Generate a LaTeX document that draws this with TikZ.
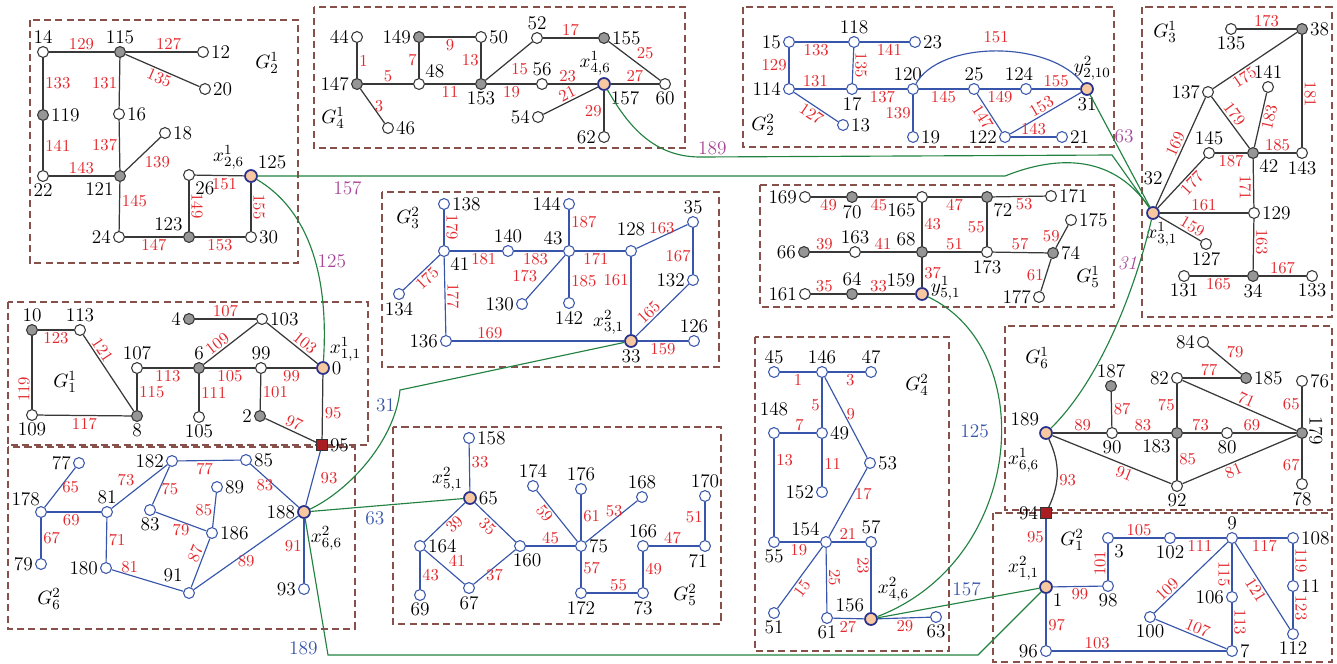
\documentclass[tikz,border=0pt]{standalone}
\usepackage{amsmath}
\usetikzlibrary{positioning}
\definecolor{wtred}{RGB}{228,40,45}
\definecolor{treeblue}{RGB}{55,85,170}
\definecolor{linkgreen}{RGB}{35,130,65}
\definecolor{linkpurple}{RGB}{168,70,150}
\definecolor{boxbrown}{RGB}{135,80,75}
\definecolor{peach}{RGB}{248,200,160}
\definecolor{rimblue}{RGB}{40,50,140}
\definecolor{cutred}{RGB}{170,30,35}
\definecolor{dotgray}{RGB}{150,150,150}

\begin{document}
\begin{tikzpicture}[
  x=0.02cm, y=-0.02cm,
  font=\fontsize{11}{13}\selectfont,
  every label/.style={inner sep=1pt},
  wdot/.style={circle, draw=black!80, fill=white, line width=0.6pt, minimum size=6.2pt, inner sep=0pt},
  gdot/.style={wdot, fill=dotgray},
  bdot/.style={wdot, draw=treeblue},
  port/.style={circle, draw=rimblue, fill=peach, line width=1pt, minimum size=6.8pt, inner sep=0pt},
  cutsq/.style={rectangle, draw=black!80, fill=cutred, line width=0.5pt, minimum size=6.2pt, inner sep=0pt},
  kedge/.style={draw=black!78, line width=0.7pt},
  bedge/.style={draw=treeblue, line width=0.65pt},
  glink/.style={draw=linkgreen, line width=0.65pt},
  wt/.style={text=wtred, font=\fontsize{9.5}{11}\selectfont, inner sep=1pt},
  pwt/.style={text=linkpurple, inner sep=1pt},
  bwt/.style={text=treeblue, inner sep=1pt},
  rotr/.style={rotate=-90, anchor=south},
  rotl/.style={rotate=-90, anchor=north},
  rotu/.style={rotate=90, anchor=south},
  grp/.style={draw=boxbrown, line width=0.75pt, dash pattern=on 4pt off 2.4pt},
]
\useasboundingbox (0,0) rectangle (1337,663);
\fill[white] (0,0) rectangle (1337,663);

% group boxes
\draw[grp] (30,20) rectangle (298,263);
\draw[grp] (314,7) rectangle (685,148);
\draw[grp] (743,7) rectangle (1114,147);
\draw[grp] (1142,7) rectangle (1332,317);
\draw[grp] (8,302) rectangle (368,445);
\draw[grp] (382,192) rectangle (719,367);
\draw[grp] (760,185) rectangle (1114,307);
\draw[grp] (1005,326) rectangle (1332,510);
\draw[grp] (8,447) rectangle (355,629);
\draw[grp] (393,427) rectangle (721,624);
\draw[grp] (755,337) rectangle (949,651);
\draw[grp] (993,513) rectangle (1332,662);

% G_2^1
\node[wdot, label=above:14] (B14) at (43,52) {};
\node[gdot, label=above:115] (B115) at (120,52) {};
\node[wdot, label=right:12] (B12) at (203,52) {};
\node[wdot, label=right:20] (B20) at (205,89) {};
\node[gdot, label=right:119] (B119) at (43,115) {};
\node[wdot, label=right:16] (B16) at (119,114) {};
\node[wdot, label=right:18] (B18) at (165,133) {};
\node[wdot, label=below:22] (B22) at (43,176) {};
\node[gdot, label=below left:121] (B121) at (120,176) {};
\node[wdot, label=below right:26] (B26) at (189,175) {};
\node[port, label=above right:125, label={above left:$x^1_{2,6}$}] (B125) at (251,176) {};
\node[wdot, label=left:24] (B24) at (119,237) {};
\node[gdot, label=above left:123] (B123) at (189,237) {};
\node[wdot, label=right:30] (B30) at (251,237) {};
\node (G21) at (267,63) {$G_2^1$};

% G_4^1
\node[wdot, label=left:44] (D44) at (357,37) {};
\node[gdot, label=left:147] (D147) at (357,84) {};
\node[wdot, label=right:46] (D46) at (388,128) {};
\node[gdot, label=left:149] (D149) at (419,37) {};
\node[wdot, label=above right:48] (D48) at (419,84) {};
\node[wdot, label=right:50] (D50) at (481,37) {};
\node[gdot, label=below:153] (D153) at (481,84) {};
\node[wdot, label=above:52] (D52) at (537,38) {};
\node[wdot, label=above:56] (D56) at (542,84) {};
\node[gdot, label=right:155] (D155) at (604,38) {};
\node[port, label=below right:157, label={[xshift=-5pt]above:$x^1_{4,6}$}] (D157) at (604,84) {};
\node[wdot, label=below:60] (D60) at (665,84) {};
\node[wdot, label=left:54] (D54) at (538,117) {};
\node[wdot, label=left:62] (D62) at (604,137) {};
\node (G41) at (333,118) {$G_4^1$};

% G_2^2
\node[bdot, label=left:15] (b15) at (789,42) {};
\node[bdot, label=above:118] (b118) at (854,42) {};
\node[bdot, label=right:23] (b23) at (915,42) {};
\node[bdot, label=left:114] (b114) at (789,89) {};
\node[bdot, label=below:17] (b17) at (852,89) {};
\node[bdot, label=right:13] (b13) at (843,125) {};
\node[bdot, label={[xshift=-3pt]above:120}] (b120) at (913,89) {};
\node[bdot, label=right:19] (b19) at (913,137) {};
\node[bdot, label=above:25] (b25) at (974,89) {};
\node[bdot, label={[xshift=-4pt]above:124}] (b124) at (1026,89) {};
\node[port, label=below:31, label={[xshift=3pt]above:$y^2_{2,10}$}] (b31) at (1087,89) {};
\node[bdot, label=left:122] (b122) at (1005,137) {};
\node[bdot, label=right:21] (b21) at (1062,137) {};
\node (G22) at (763,125) {$G_2^2$};

% G_3^1
\node[wdot, label=below:135] (C135) at (1231,29) {};
\node[gdot, label=right:38] (C38) at (1302,29) {};
\node[wdot, label=left:137] (C137) at (1208,92) {};
\node[wdot, label=above:141] (C141) at (1268,87) {};
\node[wdot, label=above:145] (C145) at (1209,153) {};
\node[gdot, label=below right:42] (C42) at (1253,153) {};
\node[wdot, label=below:143] (C143) at (1302,153) {};
\node[port, label={[yshift=11pt]above:32}, label={[xshift=5pt]below:$x^1_{3,1}$}] (C32) at (1153,213) {};
\node[wdot, label=right:129] (C129) at (1254,213) {};
\node[wdot, label=below:127] (C127) at (1206,244) {};
\node[wdot, label=below:131] (C131) at (1184,276) {};
\node[gdot, label=below:34] (C34) at (1253,276) {};
\node[wdot, label=below:133] (C133) at (1312,276) {};
\node (G31) at (1165,32) {$G_3^1$};

% G_1^1
\node[gdot, label=above:10] (A10) at (32,330) {};
\node[wdot, label=above:113] (A113) at (80,330) {};
\node[wdot, label=below:109] (A109) at (32,415) {};
\node[gdot, label=below:8] (A8) at (137,416) {};
\node[wdot, label=above:107] (A107) at (137,368) {};
\node[gdot, label=above:6] (A6) at (199,368) {};
\node[gdot, label=left:4] (A4) at (189,319) {};
\node[wdot, label=right:103] (A103) at (262,319) {};
\node[wdot, label=above:99] (A99) at (261,368) {};
\node[port, label=right:0, label={above right:$x^1_{1,1}$}] (A0) at (323,368) {};
\node[wdot, label=below:105] (A105) at (199,417) {};
\node[gdot, label=left:2] (A2) at (260,416) {};
\node[cutsq, label=right:95] (Q95) at (322,445) {};
\node (G11) at (65,382) {$G_1^1$};

% G_3^2
\node[bdot, label=right:138] (c138) at (444,204) {};
\node[bdot, label=below right:41] (c41) at (444,251) {};
\node[bdot, label=above:140] (c140) at (508,251) {};
\node[bdot, label=above left:43] (c43) at (569,251) {};
\node[bdot, label=left:144] (c144) at (569,204) {};
\node[bdot, label={[yshift=4pt]above:128}] (c128) at (631,251) {};
\node[bdot, label=above:35] (c35) at (693,222) {};
\node[bdot, label=left:132] (c132) at (693,280) {};
\node[bdot, label=below:134] (c134) at (399,294) {};
\node[bdot, label=left:130] (c130) at (522,304) {};
\node[bdot, label=below:142] (c142) at (569,303) {};
\node[bdot, label=left:136] (c136) at (446,341) {};
\node[port, label=below:33, label={above left:$x^2_{3,1}$}] (c33) at (631,341) {};
\node[bdot, label=above:126] (c126) at (694,341) {};
\node (G32) at (408,218) {$G_3^2$};

% G_5^1
\node[wdot, label=left:169] (E169) at (805,197) {};
\node[gdot, label=below:70] (E70) at (852,197) {};
\node[wdot, label=below left:165] (E165) at (922,197) {};
\node[gdot, label=below right:72] (E72) at (987,197) {};
\node[wdot, label=right:171] (E171) at (1051,196) {};
\node[gdot, label=left:66] (E66) at (804,252) {};
\node[wdot, label=above:163] (E163) at (855,252) {};
\node[gdot, label=above left:68] (E68) at (922,252) {};
\node[wdot, label=below:173] (E173) at (987,252) {};
\node[gdot, label=right:74] (E74) at (1053,253) {};
\node[wdot, label=right:175] (E175) at (1071,220) {};
\node[wdot, label=left:177] (E177) at (1039,297) {};
\node[wdot, label=left:161] (E161) at (805,294) {};
\node[gdot, label=above:64] (E64) at (852,294) {};
\node[port, label=above left:159, label={[yshift=3pt]right:$y^1_{5,1}$}] (E159) at (922,294) {};
\node (G51) at (1088,277) {$G_5^1$};

% G_6^1
\node[wdot, label=left:84] (F84) at (1203,342) {};
\node[gdot, label=right:185] (F185) at (1246,378) {};
\node[wdot, label=left:82] (F82) at (1177,378) {};
\node[gdot, label=above:187] (F187) at (1111,386) {};
\node[wdot, label=right:76] (F76) at (1302,381) {};
\node[port, label=above left:189, label={[yshift=-5pt]below left:$x^1_{6,6}$}] (F189) at (1046,433) {};
\node[wdot, label=below:90] (F90) at (1112,433) {};
\node[gdot, label=below left:183] (F183) at (1177,433) {};
\node[wdot, label=below:80] (F80) at (1227,433) {};
\node[gdot] (F179) at (1302,433) {};
\node[rotate=-90] (F179txt) at (1316,431) {179};
\node[wdot, label=below:92] (F92) at (1177,486) {};
\node[wdot, label=below:78] (F78) at (1302,484) {};
\node[cutsq, label=left:94] (Q94) at (1046,513) {};
\node (G61) at (1037,358) {$G_6^1$};

% G_6^2
\node[bdot, label=left:77] (f77) at (79,463) {};
\node[bdot, label={[xshift=3pt]above left:178}] (f178) at (41,512) {};
\node[bdot, label=above:81] (f81) at (107,512) {};
\node[bdot, label=left:79] (f79) at (41,564) {};
\node[bdot, label=left:180] (f180) at (106,568) {};
\node[bdot, label=left:182] (f182) at (172,461) {};
\node[bdot, label=right:85] (f85) at (246,460) {};
\node[bdot, label=below:83] (f83) at (150,510) {};
\node[bdot, label=right:89] (f89) at (217,487) {};
\node[bdot, label=right:186] (f186) at (212,533) {};
\node[bdot, label={[yshift=3pt]above left:91}] (f91) at (189,593) {};
\node[port, label=left:188, label={[yshift=-4pt]below right:$x^2_{6,6}$}] (f188) at (304,512) {};
\node[bdot, label=left:93] (f93) at (304,589) {};
\node (G62) at (49,599) {$G_6^2$};

% G_5^2
\node[bdot, label=right:158] (e158) at (469,438) {};
\node[port, label=right:65, label={above left:$x^2_{5,1}$}] (e65) at (470,498) {};
\node[bdot, label=right:164] (e164) at (420,546) {};
\node[bdot, label={[xshift=4pt]below:160}] (e160) at (520,546) {};
\node[bdot, label=below:67] (e67) at (469,588) {};
\node[bdot, label=below:69] (e69) at (420,595) {};
\node[bdot, label=above:174] (e174) at (533,486) {};
\node[bdot, label=above:176] (e176) at (581,489) {};
\node[bdot, label=above:168] (e168) at (642,497) {};
\node[bdot, label=right:75] (e75) at (581,546) {};
\node[bdot, label=above:166] (e166) at (643,546) {};
\node[bdot, label={[xshift=-4pt]below:71}] (e71) at (705,546) {};
\node[bdot, label=above:170] (e170) at (705,496) {};
\node[bdot, label=below:172] (e172) at (581,593) {};
\node[bdot, label=below:73] (e73) at (643,593) {};
\node (G52) at (685,595) {$G_5^2$};

% G_4^2
\node[bdot, label=above:45] (d45) at (774,372) {};
\node[bdot, label=above:146] (d146) at (822,372) {};
\node[bdot, label=above:47] (d47) at (871,372) {};
\node[bdot, label={[yshift=5pt]above:148}] (d148) at (774,433) {};
\node[bdot, label=right:49] (d49) at (822,433) {};
\node[bdot, label=right:53] (d53) at (870,463) {};
\node[bdot, label=left:152] (d152) at (822,492) {};
\node[bdot, label=below:55] (d55) at (774,542) {};
\node[bdot, label=above left:154] (d154) at (826,542) {};
\node[bdot, label=above:57] (d57) at (871,542) {};
\node[bdot, label=below:51] (d51) at (774,613) {};
\node[bdot, label=below:61] (d61) at (827,618) {};
\node[port, label=above left:156, label={[yshift=6pt]above right:$x^2_{4,6}$}] (d156) at (871,619) {};
\node[bdot, label=below:63] (d63) at (936,617) {};
\node (G42) at (917,385) {$G_4^2$};

% G_1^2
\node[port, label=below right:1, label={above left:$x^2_{1,1}$}] (a1) at (1046,587) {};
\node[bdot, label=below right:3] (a3) at (1108,538) {};
\node[bdot, label=below:102] (a102) at (1170,538) {};
\node[bdot, label=above:9] (a9) at (1232,538) {};
\node[bdot, label=right:108] (a108) at (1293,538) {};
\node[bdot, label=below:98] (a98) at (1108,586) {};
\node[bdot, label=right:11] (a11) at (1293,586) {};
\node[bdot, label=left:106] (a106) at (1232,597) {};
\node[bdot, label=below:100] (a100) at (1150,617) {};
\node[bdot, label=below:112] (a112) at (1293,634) {};
\node[bdot, label=left:96] (a96) at (1046,651) {};
\node[bdot, label=right:7] (a7) at (1232,651) {};
\node (G12) at (1072,540) {$G_1^2$};

% bend points of the links
\coordinate (k1) at (1005,176);
\coordinate (k2) at (700,157);
\coordinate (k3) at (1112,155);
\coordinate (k4) at (400,390);
\coordinate (k5) at (328,655);
\coordinate (k6) at (978,655);

% G_2^1 edges
\draw[kedge] (B14) -- node[wt, above]{129} (B115);
\draw[kedge] (B115) -- node[wt, above, pos=0.6]{127} (B12);
\draw[kedge] (B115) -- node[wt, below, sloped]{135} (B20);
\draw[kedge] (B14) -- node[wt, right]{133} (B119);
\draw[kedge] (B119) -- node[wt, right]{141} (B22);
\draw[kedge] (B115) -- node[wt, left]{131} (B16);
\draw[kedge] (B16) -- node[wt, left]{137} (B121);
\draw[kedge] (B22) -- node[wt, above]{143} (B121);
\draw[kedge] (B121) -- node[wt, below right]{139} (B18);
\draw[kedge] (B121) -- node[wt, right, pos=0.38]{145} (B24);
\draw[kedge] (B26) -- node[wt, rotr]{149} (B123);
\draw[kedge] (B26) -- node[wt, below, pos=0.6]{151} (B125);
\draw[kedge] (B125) -- node[wt, rotr]{155} (B30);
\draw[kedge] (B24) -- node[wt, below]{147} (B123);
\draw[kedge] (B123) -- node[wt, below]{153} (B30);

% G_4^1 edges
\draw[kedge] (D44) -- node[wt, right]{1} (D147);
\draw[kedge] (D147) -- node[wt, above]{5} (D48);
\draw[kedge] (D147) -- node[wt, right]{3} (D46);
\draw[kedge] (D149) -- node[wt, left]{7} (D48);
\draw[kedge] (D149) -- node[wt, below]{9} (D50);
\draw[kedge] (D50) -- node[wt, left]{13} (D153);
\draw[kedge] (D48) -- node[wt, below]{11} (D153);
\draw[kedge] (D153) -- node[wt, below right]{15} (D52);
\draw[kedge] (D153) -- node[wt, below]{19} (D56);
\draw[kedge] (D52) -- node[wt, above]{17} (D155);
\draw[kedge] (D56) -- node[wt, above, pos=0.4]{23} (D157);
\draw[kedge] (D54) -- node[wt, above, sloped]{21} (D157);
\draw[kedge] (D157) -- node[wt, above]{27} (D60);
\draw[kedge] (D155) -- node[wt, above right]{25} (D60);
\draw[kedge] (D157) -- node[wt, left]{29} (D62);

% G_2^2 edges
\draw[bedge] (b15) -- node[wt, below, pos=0.4]{133} (b118);
\draw[bedge] (b118) -- node[wt, below, pos=0.6]{141} (b23);
\draw[bedge] (b15) -- node[wt, left]{129} (b114);
\draw[bedge] (b114) -- node[wt, above, pos=0.4]{131} (b17);
\draw[bedge] (b118) -- node[wt, rotr]{135} (b17);
\draw[bedge] (b114) -- node[wt, below, sloped]{127} (b13);
\draw[bedge] (b17) -- node[wt, below]{137} (b120);
\draw[bedge] (b120) -- node[wt, left]{139} (b19);
\draw[bedge] (b120) -- node[wt, below]{145} (b25);
\draw[bedge] (b25) -- node[wt, below, sloped]{147} (b122);
\draw[bedge] (b25) -- node[wt, below]{149} (b124);
\draw[bedge] (b124) -- node[wt, above]{155} (b31);
\draw[bedge] (b122) -- node[wt, above, sloped]{153} (b31);
\draw[bedge] (b122) -- node[wt, above]{143} (b21);
\draw[bedge] (b120) .. controls (940,40) and (1050,40) .. node[wt, above=3pt]{151} (b31);

% G_3^1 edges
\draw[kedge] (C135) -- node[wt, above]{173} (C38);
\draw[kedge] (C137) -- node[wt, below, sloped, pos=0.32]{175} (C38);
\draw[kedge] (C38) -- node[wt, rotr, pos=0.53]{181} (C143);
\draw[kedge] (C137) -- node[wt, above, sloped, pos=0.43]{179} (C42);
\draw[kedge] (C42) -- node[wt, below, sloped, pos=0.58]{183} (C141);
\draw[kedge] (C32) -- node[wt, above, sloped, pos=0.54]{169} (C137);
\draw[kedge] (C42) -- node[wt, above]{185} (C143);
\draw[kedge] (C145) -- node[wt, below]{187} (C42);
\draw[kedge] (C32) -- node[wt, below, sloped, pos=0.6]{177} (C145);
\draw[kedge] (C42) -- node[wt, rotl, pos=0.6]{171} (C129);
\draw[kedge] (C32) -- node[wt, above]{161} (C129);
\draw[kedge] (C32) -- node[wt, above, sloped, pos=0.7]{159} (C127);
\draw[kedge] (C129) -- node[wt, rotr, pos=0.45]{163} (C34);
\draw[kedge] (C131) -- node[wt, below]{165} (C34);
\draw[kedge] (C34) -- node[wt, above]{167} (C133);

% G_1^1 edges
\draw[kedge] (A10) -- node[wt, below]{123} (A113);
\draw[kedge] (A113) -- node[wt, above, sloped, pos=0.25]{121} (A8);
\draw[kedge] (A10) -- node[wt, rotu, pos=0.73]{119} (A109);
\draw[kedge] (A109) -- node[wt, below]{117} (A8);
\draw[kedge] (A107) -- node[wt, below]{113} (A6);
\draw[kedge] (A107) -- node[wt, right]{115} (A8);
\draw[kedge] (A4) -- node[wt, above]{107} (A103);
\draw[kedge] (A6) -- node[wt, above, sloped, pos=0.35]{109} (A103);
\draw[kedge] (A103) -- node[wt, above, sloped, pos=0.65]{103} (A0);
\draw[kedge] (A6) -- node[wt, below]{105} (A99);
\draw[kedge] (A99) -- node[wt, below]{99} (A0);
\draw[kedge] (A6) -- node[wt, right]{111} (A105);
\draw[kedge] (A99) -- node[wt, right]{101} (A2);
\draw[kedge] (A2) -- node[wt, above, sloped]{97} (Q95);
\draw[kedge] (A0) -- node[wt, right, pos=0.6]{95} (Q95);

% G_3^2 edges
\draw[bedge] (c138) -- node[wt, rotr]{179} (c41);
\draw[bedge] (c41) -- node[wt, below, pos=0.65]{181} (c140);
\draw[bedge] (c140) -- node[wt, below, pos=0.44]{183} (c43);
\draw[bedge] (c144) -- node[wt, right, pos=0.35]{187} (c43);
\draw[bedge] (c43) -- node[wt, below, pos=0.42]{171} (c128);
\draw[bedge] (c128) -- node[wt, above]{163} (c35);
\draw[bedge] (c35) -- node[wt, left, pos=0.6]{167} (c132);
\draw[bedge] (c134) -- node[wt, below, sloped]{175} (c41);
\draw[bedge] (c41) -- node[wt, rotr]{177} (c136);
\draw[bedge] (c130) -- node[wt, above left, pos=0.35]{173} (c43);
\draw[bedge] (c43) -- node[wt, right, pos=0.6]{185} (c142);
\draw[bedge] (c128) -- node[wt, left, pos=0.3]{161} (c33);
\draw[bedge] (c33) -- node[wt, above, sloped, pos=0.35]{165} (c132);
\draw[bedge] (c136) -- node[wt, above, pos=0.22]{169} (c33);
\draw[bedge] (c33) -- node[wt, below]{159} (c126);

% G_5^1 edges
\draw[kedge] (E169) -- node[wt, below]{49} (E70);
\draw[kedge] (E70) -- node[wt, below, pos=0.36]{45} (E165);
\draw[kedge] (E165) -- node[wt, below]{47} (E72);
\draw[kedge] (E72) -- node[wt, below, pos=0.6]{53} (E171);
\draw[kedge] (E165) -- node[wt, right]{43} (E68);
\draw[kedge] (E72) -- node[wt, left, pos=0.55]{55} (E173);
\draw[kedge] (E68) -- node[wt, above]{51} (E173);
\draw[kedge] (E66) -- node[wt, above, pos=0.37]{39} (E163);
\draw[kedge] (E163) -- node[wt, above, pos=0.4]{41} (E68);
\draw[kedge] (E173) -- node[wt, above]{57} (E74);
\draw[kedge] (E74) -- node[wt, left]{59} (E175);
\draw[kedge] (E177) -- node[wt, left]{61} (E74);
\draw[kedge] (E68) -- node[wt, right]{37} (E159);
\draw[kedge] (E161) -- node[wt, above, pos=0.38]{35} (E64);
\draw[kedge] (E64) -- node[wt, above, pos=0.36]{33} (E159);

% G_6^1 edges
\draw[kedge] (F84) -- node[wt, above right]{79} (F185);
\draw[kedge] (F82) -- node[wt, above, pos=0.46]{77} (F185);
\draw[kedge] (F82) -- node[wt, above, sloped, pos=0.53]{71} (F179);
\draw[kedge] (F82) -- node[wt, left]{75} (F183);
\draw[kedge] (F187) -- node[wt, right]{87} (F90);
\draw[kedge] (F189) -- node[wt, above, pos=0.56]{89} (F90);
\draw[kedge] (F90) -- node[wt, above, pos=0.47]{83} (F183);
\draw[kedge] (F183) -- node[wt, above, pos=0.46]{73} (F80);
\draw[kedge] (F80) -- node[wt, above, pos=0.3]{69} (F179);
\draw[kedge] (F76) -- node[wt, left, pos=0.44]{65} (F179);
\draw[kedge] (F189) -- node[wt, below, sloped, pos=0.63]{91} (F92);
\draw[kedge] (F183) -- node[wt, right]{85} (F92);
\draw[kedge] (F92) -- node[wt, below, sloped, pos=0.42]{81} (F179);
\draw[kedge] (F179) -- node[wt, left, pos=0.66]{67} (F78);
\draw[kedge] (F189) to[bend left=25] node[wt, right, pos=0.6]{93} (Q94);

% G_6^2 edges
\draw[bedge] (f178) -- node[wt, right]{65} (f77);
\draw[bedge] (f178) -- node[wt, below, pos=0.45]{69} (f81);
\draw[bedge] (f178) -- node[wt, right]{67} (f79);
\draw[bedge] (f81) -- node[wt, above left, pos=0.45]{73} (f182);
\draw[bedge] (f81) -- node[wt, right]{71} (f180);
\draw[bedge] (f182) -- node[wt, below, pos=0.43]{77} (f85);
\draw[bedge] (f182) -- node[wt, right, pos=0.6]{75} (f83);
\draw[bedge] (f89) -- node[wt, left]{85} (f186);
\draw[bedge] (f83) -- node[wt, below]{79} (f186);
\draw[bedge] (f85) -- node[wt, below, pos=0.3]{83} (f188);
\draw[bedge] (f180) -- node[wt, above, pos=0.25]{81} (f91);
\draw[bedge] (f91) -- node[wt, above, sloped, pos=0.63]{87} (f186);
\draw[bedge] (f91) -- node[wt, below]{89} (f188);
\draw[bedge] (f188) -- node[wt, left, pos=0.42]{91} (f93);
\draw[bedge] (Q95) -- node[wt, right=3pt]{93} (f188);

% G_5^2 edges
\draw[bedge] (e158) -- node[wt, right, pos=0.38]{33} (e65);
\draw[bedge] (e164) -- node[wt, below, sloped, pos=0.6]{39} (e65);
\draw[bedge] (e65) -- node[wt, below, sloped, pos=0.45]{35} (e160);
\draw[bedge] (e164) -- node[wt, right, pos=0.63]{43} (e69);
\draw[bedge] (e164) -- node[wt, above right, pos=0.55]{41} (e67);
\draw[bedge] (e67) -- node[wt, below]{37} (e160);
\draw[bedge] (e160) -- node[wt, above]{45} (e75);
\draw[bedge] (e174) -- node[wt, below, sloped, pos=0.35]{59} (e75);
\draw[bedge] (e176) -- node[wt, right, pos=0.46]{61} (e75);
\draw[bedge] (e75) -- node[wt, above, pos=0.55]{53} (e168);
\draw[bedge] (e75) -- node[wt, right, pos=0.47]{57} (e172);
\draw[bedge] (e172) -- node[wt, above, pos=0.63]{55} (e73);
\draw[bedge] (e166) -- node[wt, right]{49} (e73);
\draw[bedge] (e166) -- node[wt, above, pos=0.47]{47} (e71);
\draw[bedge] (e170) -- node[wt, left, pos=0.4]{51} (e71);

% G_4^2 edges
\draw[bedge] (d45) -- node[wt, below]{1} (d146);
\draw[bedge] (d146) -- node[wt, below, pos=0.6]{3} (d47);
\draw[bedge] (d146) -- node[wt, left, pos=0.55]{5} (d49);
\draw[bedge] (d146) -- node[wt, right, pos=0.46]{9} (d53);
\draw[bedge] (d148) -- node[wt, above, pos=0.54]{7} (d49);
\draw[bedge] (d49) -- node[wt, right, pos=0.52]{11} (d152);
\draw[bedge] (d148) -- node[wt, right, pos=0.22]{13} (d55);
\draw[bedge] (d154) -- node[wt, right, pos=0.62]{17} (d53);
\draw[bedge] (d55) -- node[wt, below, pos=0.47]{19} (d154);
\draw[bedge] (d154) -- node[wt, above, pos=0.48]{21} (d57);
\draw[bedge] (d51) -- node[wt, below, sloped, pos=0.4]{15} (d154);
\draw[bedge] (d154) -- node[wt, rotr, pos=0.46]{25} (d61);
\draw[bedge] (d57) -- node[wt, rotl, pos=0.28]{23} (d156);
\draw[bedge] (d61) -- node[wt, below, pos=0.48]{27} (d156);
\draw[bedge] (d156) -- node[wt, below, pos=0.52]{29} (d63);

% G_1^2 edges
\draw[bedge] (Q94) -- node[wt, left, pos=0.3]{95} (a1);
\draw[bedge] (a3) -- node[wt, above]{105} (a102);
\draw[bedge] (a102) -- node[wt, below, pos=0.48]{111} (a9);
\draw[bedge] (a9) -- node[wt, below, pos=0.54]{117} (a108);
\draw[bedge] (a3) -- node[wt, rotu, pos=0.54]{101} (a98);
\draw[bedge] (a1) -- node[wt, below, pos=0.55]{99} (a98);
\draw[bedge] (a100) -- node[wt, above, sloped, pos=0.25]{109} (a9);
\draw[bedge] (a9) -- node[wt, rotl, pos=0.64]{115} (a106);
\draw[bedge] (a9) -- node[wt, below, sloped, pos=0.5]{121} (a112);
\draw[bedge] (a108) -- node[wt, rotr, pos=0.46]{119} (a11);
\draw[bedge] (a11) -- node[wt, rotr, pos=0.44]{123} (a112);
\draw[bedge] (a1) -- node[wt, right, pos=0.6]{97} (a96);
\draw[bedge] (a96) -- node[wt, above, pos=0.26]{103} (a7);
\draw[bedge] (a100) -- node[wt, above, sloped, pos=0.55]{107} (a7);
\draw[bedge] (a106) -- node[wt, rotr, pos=0.46]{113} (a7);

% level one links
\draw[glink] (B125) .. controls (300,205) and (330,260) .. node[pwt, right, pos=0.6]{125} (A0);
\draw[glink] (B125) -- node[pwt, below=2pt, pos=0.12]{157} (k1) .. controls (1050,158) and (1110,150) .. (C32);
\draw[glink] (D157) .. controls (625,120) and (650,157) .. (k2) -- node[pwt, above, pos=0.03]{189} (k3) -- (C32);
\draw[glink] (b31) -- node[pwt, right, pos=0.37]{63} (C32);
\draw[glink] (C32) .. controls (1135,290) and (1100,380) .. node[pwt, left, pos=0.2]{\itshape 31} (F189);
\draw[glink] (E159) .. controls (1040,350) and (1025,560) .. node[bwt, left=6pt, pos=0.44]{125} (d156);

% level two links
\draw[glink] (f188) .. controls (350,490) and (395,440) .. node[bwt, left, pos=0.9]{31} (k4) -- (c33);
\draw[glink] (f188) -- node[bwt, below=2pt, pos=0.42]{63} (e65);
\draw[glink] (f188) -- node[bwt, left=4pt, pos=0.95]{189} (k5) -- (k6) -- (a1);
\draw[glink] (d156) -- node[bwt, above=2pt, pos=0.55]{157} (a1);

\end{tikzpicture}
\end{document}
